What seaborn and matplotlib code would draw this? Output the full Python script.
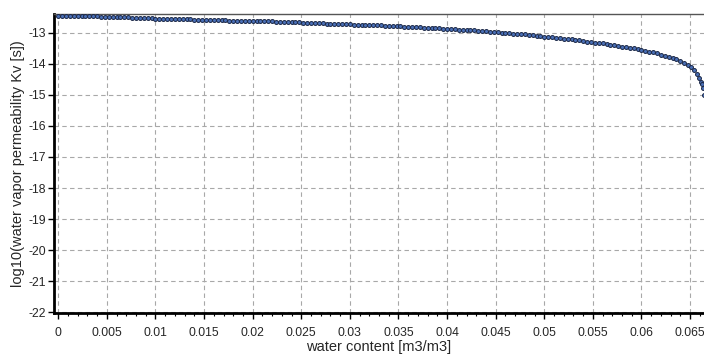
import matplotlib
matplotlib.use("Agg")
import matplotlib.pyplot as plt
import pandas as pd
import seaborn as sns
from matplotlib.ticker import MultipleLocator, FuncFormatter

# water content [m3/m3]
water_content = [
    0.0000, 0.0004, 0.0008, 0.0012, 0.0016, 0.0020, 0.0024, 0.0028, 0.0032, 0.0036,
    0.0040, 0.0044, 0.0048, 0.0052, 0.0056, 0.0060, 0.0064, 0.0068, 0.0072, 0.0076,
    0.0080, 0.0084, 0.0088, 0.0092, 0.0096, 0.0100, 0.0104, 0.0108, 0.0112, 0.0116,
    0.0120, 0.0124, 0.0128, 0.0132, 0.0136, 0.0140, 0.0144, 0.0148, 0.0152, 0.0156,
    0.0160, 0.0164, 0.0168, 0.0172, 0.0176, 0.0180, 0.0184, 0.0188, 0.0192, 0.0196,
    0.0200, 0.0204, 0.0208, 0.0212, 0.0216, 0.0220, 0.0224, 0.0228, 0.0232, 0.0236,
    0.0240, 0.0244, 0.0248, 0.0252, 0.0256, 0.0260, 0.0264, 0.0268, 0.0272, 0.0276,
    0.0280, 0.0284, 0.0288, 0.0292, 0.0296, 0.0300, 0.0304, 0.0308, 0.0312, 0.0316,
    0.0320, 0.0324, 0.0328, 0.0332, 0.0336, 0.0340, 0.0344, 0.0348, 0.0352, 0.0356,
    0.0360, 0.0364, 0.0368, 0.0372, 0.0376, 0.0380, 0.0384, 0.0388, 0.0392, 0.0396,
    0.0400, 0.0404, 0.0408, 0.0412, 0.0416, 0.0420, 0.0424, 0.0428, 0.0432, 0.0436,
    0.0440, 0.0444, 0.0448, 0.0452, 0.0456, 0.0460, 0.0464, 0.0468, 0.0472, 0.0476,
    0.0480, 0.0484, 0.0488, 0.0492, 0.0496, 0.0500, 0.0504, 0.0508, 0.0512, 0.0516,
    0.0520, 0.0524, 0.0528, 0.0532, 0.0536, 0.0540, 0.0544, 0.0548, 0.0552, 0.0556,
    0.0560, 0.0564, 0.0568, 0.0572, 0.0576, 0.0580, 0.0584, 0.0588, 0.0592, 0.0596,
    0.0600, 0.0604, 0.0608, 0.0612, 0.0616, 0.0620, 0.0624, 0.0628, 0.0632, 0.0636,
    0.0640, 0.0644, 0.0648, 0.0651, 0.0654, 0.0657, 0.0659, 0.0661, 0.0662, 0.0663,
    0.0664,
]

# log10(water vapor permeability Kv [s])
log_kv = [
    -12.45, -12.45, -12.45, -12.45, -12.45, -12.45, -12.46, -12.46, -12.46, -12.47,
    -12.47, -12.48, -12.48, -12.49, -12.49, -12.49, -12.50, -12.50, -12.50, -12.51,
    -12.51, -12.52, -12.52, -12.53, -12.53, -12.54, -12.54, -12.54, -12.55, -12.55,
    -12.55, -12.55, -12.56, -12.56, -12.56, -12.57, -12.57, -12.57, -12.58, -12.58,
    -12.58, -12.59, -12.59, -12.59, -12.60, -12.60, -12.60, -12.61, -12.61, -12.61,
    -12.61, -12.62, -12.62, -12.63, -12.63, -12.63, -12.64, -12.64, -12.65, -12.65,
    -12.65, -12.66, -12.66, -12.67, -12.67, -12.68, -12.68, -12.69, -12.69, -12.70,
    -12.70, -12.70, -12.71, -12.71, -12.72, -12.72, -12.73, -12.73, -12.74, -12.74,
    -12.75, -12.75, -12.76, -12.76, -12.77, -12.77, -12.78, -12.78, -12.79, -12.80,
    -12.80, -12.81, -12.81, -12.82, -12.83, -12.83, -12.84, -12.85, -12.85, -12.86,
    -12.87, -12.88, -12.88, -12.89, -12.90, -12.91, -12.92, -12.92, -12.93, -12.94,
    -12.95, -12.96, -12.97, -12.98, -12.99, -13.00, -13.01, -13.02, -13.03, -13.04,
    -13.05, -13.06, -13.08, -13.09, -13.10, -13.12, -13.13, -13.14, -13.16, -13.17,
    -13.18, -13.20, -13.21, -13.23, -13.24, -13.26, -13.28, -13.29, -13.31, -13.33,
    -13.34, -13.36, -13.38, -13.40, -13.42, -13.44, -13.46, -13.48, -13.50, -13.52,
    -13.54, -13.57, -13.60, -13.63, -13.66, -13.70, -13.73, -13.77, -13.81, -13.85,
    -13.91, -13.98, -14.05, -14.11, -14.20, -14.33, -14.45, -14.58, -14.66, -14.76,
    -15.00,
]

df = pd.DataFrame({"theta": water_content, "logkv": log_kv})

sns.set_theme(style="white")
plt.rcParams["font.family"] = ["Liberation Sans", "DejaVu Sans"]
plt.rcParams["axes.unicode_minus"] = False

fig = plt.figure(figsize=(7.04, 3.54), dpi=100)
ax = fig.add_axes([54 / 704, 41 / 354, 650 / 704, 299 / 354])

sns.scatterplot(data=df, x="theta", y="logkv", ax=ax, marker="o", s=8,
                color="#4a70b8", edgecolor="#1b2745", linewidth=0.7, zorder=3,
                clip_on=False)

ax.set_xlim(-0.00044, 0.06643)
ax.set_ylim(-22.03, -12.39)

ax.xaxis.set_major_locator(MultipleLocator(0.005))
ax.xaxis.set_minor_locator(MultipleLocator(0.001))
ax.yaxis.set_major_locator(MultipleLocator(1))
ax.xaxis.set_major_formatter(FuncFormatter(lambda v, p: f"{v:g}" if abs(v) > 1e-12 else "0"))
ax.yaxis.set_major_formatter(FuncFormatter(lambda v, p: f"{v:.0f}"))

ax.grid(True, which="major", color="#a8a8a8", linestyle=(0, (4, 3)), linewidth=0.8)
ax.set_axisbelow(True)

for side in ["left", "bottom"]:
    ax.spines[side].set_color("black")
    ax.spines[side].set_linewidth(2.0)
ax.spines["top"].set_color("#555555")
ax.spines["top"].set_linewidth(1.0)
ax.spines["right"].set_visible(False)

ax.tick_params(axis="x", which="major", direction="out", length=4, width=1,
               color="black", labelsize=8.8, pad=6, bottom=True)
ax.tick_params(axis="x", which="minor", direction="out", length=2.5, width=0.8,
               color="black", bottom=True)
ax.tick_params(axis="y", which="major", direction="out", length=4, width=1,
               color="black", labelsize=8.8, pad=2, left=True)

ax.set_xlabel("water content [m3/m3]", fontsize=10.5, labelpad=1)
ax.set_ylabel("log10(water vapor permeability Kv [s])", fontsize=10.5, labelpad=2)

fig.savefig("out.png", dpi=100)
